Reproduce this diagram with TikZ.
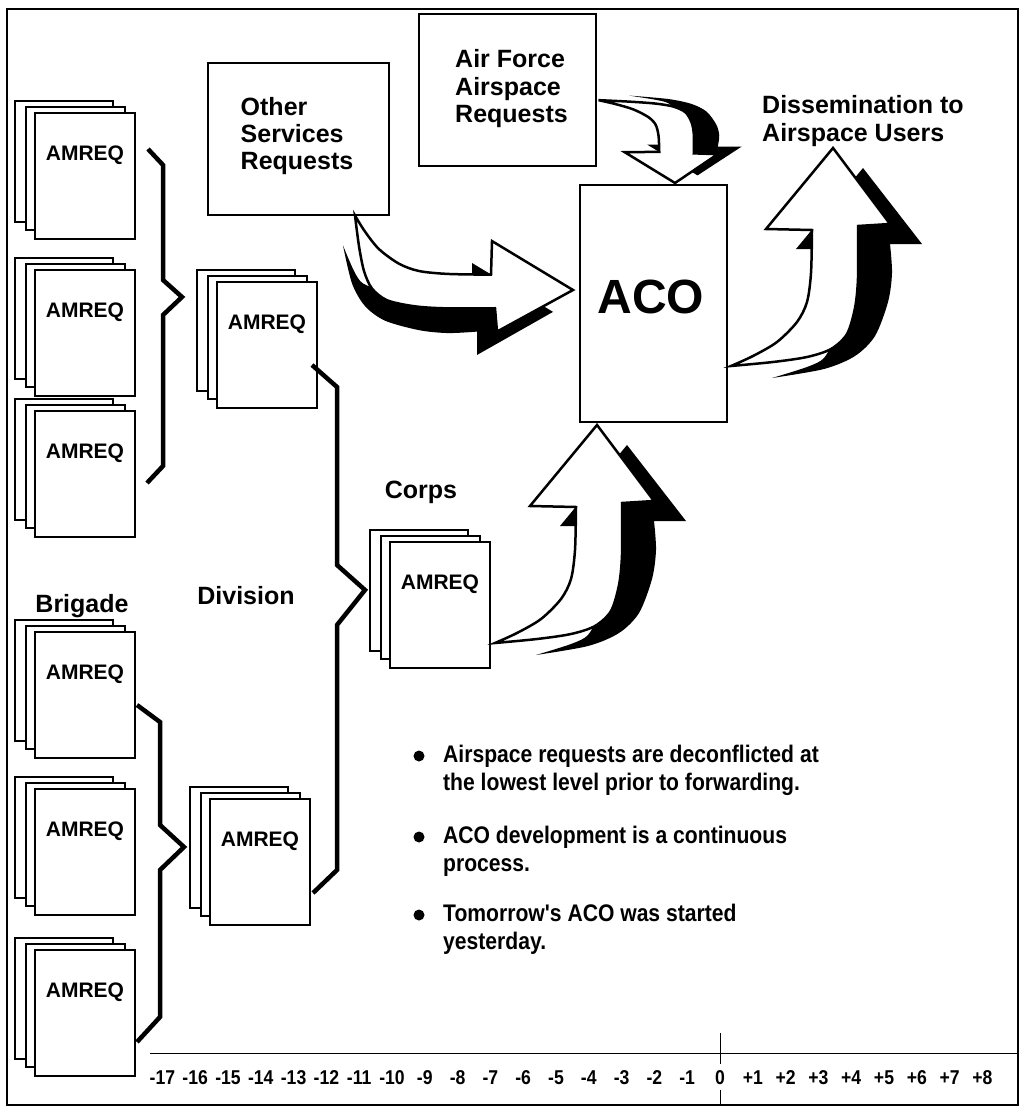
\documentclass[tikz,border=0pt]{standalone}
\usepackage{fontspec}
\setmainfont{Liberation Sans}
\newfontfamily\condfont[FakeStretch=0.88]{Liberation Sans}
\newcommand{\amstack}[3]{%
  \node[pageback, anchor=north west] (#1-back) at ({#2-20},{#3-12}) {};
  \node[pagemid, anchor=north west] (#1-mid) at ({#2-9},{#3-6}) {};
  \node[pagefront, anchor=north west] (#1) at (#2,#3) {};
  \node[amtext, anchor=base] (#1-t) at ({#2+50},{#3+47.5}) {AMREQ};
}
\newcommand{\curvyarrow}[1]{%
  \begin{scope}[cm={#1}]
    \fill[black] (30,20) -- (89,96) -- (57,96)
      -- plot[smooth] coordinates {(57,96) (59,125) (55,154) (42,188) (22,208) (-9,221) (-61,230)}
      -- plot[smooth] coordinates {(-61,230) (-26,219) (-9,210) (0,190) (5,150) (5,101)}
      -- (-37,101) -- cycle;
    \draw[fill=white, line width=2.5pt] (0,0) -- (57,76) -- (25,78)
      -- plot[smooth] coordinates {(25,78) (25,130) (22,160) (14,186) (-2,201) (-26,209) (-60,214) (-102,218)}
      -- plot[smooth] coordinates {(-102,218) (-80,208) (-56,194) (-36,174) (-26,154) (-22,125) (-21,82)}
      -- (-67,81) -- cycle;
  \end{scope}}
\begin{document}
\begin{tikzpicture}[x=1pt,y=-1pt,
  pagefront/.style={draw, fill=white, line width=1.2pt, minimum width=100pt, minimum height=126pt, inner sep=0pt, outer sep=0pt},
  pageback/.style={pagefront, minimum width=98pt, minimum height=121pt},
  pagemid/.style={pagefront, minimum width=99pt, minimum height=123pt},
  amtext/.style={font=\fontsize{21}{25}\selectfont\bfseries, inner sep=0pt},
  lab/.style={font=\fontsize{25}{28}\selectfont\bfseries, inner sep=0pt},
  bul/.style={font=\fontsize{24}{28}\selectfont\condfont\bfseries, inner sep=0pt, anchor=base west},
  numtext/.style={font=\fontsize{20}{24}\selectfont\condfont\bfseries, inner sep=0pt, anchor=base},
  reqbox/.style={draw, fill=white, line width=1.2pt, inner sep=0pt},
  brace/.style={line width=4.5pt, line join=miter}
]
\useasboundingbox (0,0) rectangle (1022,1110);
\draw[line width=2.2pt] (7,9) rectangle (1018,1105);

% request boxes
\draw[reqbox] (208,63) rectangle (389,215);
\node[lab, anchor=base west] (os1) at (240.5,116) {Other};
\node[lab, anchor=base west] (os2) at (240.5,143) {Services};
\node[lab, anchor=base west] (os3) at (240.5,170) {Requests};

\draw[reqbox] (419,14) rectangle (596,166);
\node[lab, anchor=base west] (af1) at (455,68) {Air Force};
\node[lab, anchor=base west] (af2) at (455,95.5) {Airspace};
\node[lab, anchor=base west] (af3) at (455,123) {Requests};

\draw[reqbox] (580,185) rectangle (727,422);
\node[font=\fontsize{48}{52}\selectfont\bfseries, inner sep=0pt, anchor=base] (aco) at (651,313) {ACO};

\node[lab, anchor=base west] (ds1) at (762,114) {Dissemination to};
\node[lab, anchor=base west] (ds2) at (762,142) {Airspace Users};

% stacks
\amstack{bA}{35}{113}
\amstack{bB}{35}{270}
\amstack{bC}{35}{411}
\amstack{bD}{35}{632}
\amstack{bE}{35}{789}
\amstack{bF}{35}{950}
\amstack{dA}{217}{282}
\amstack{dB}{210}{799}
\amstack{cA}{390}{542}

\node[lab, anchor=base] (brig) at (82,612) {Brigade};
\node[lab, anchor=base] (divi) at (246,604) {Division};
\node[lab, anchor=base] (corp) at (421,498) {Corps};

% braces
\draw[brace] (148,149) -- (163,165) -- (163,280) -- (182,297) -- (163,315) -- (163,466) -- (147,483);
\draw[brace] (137,705) -- (160,722) -- (160,825) -- (184,847) -- (160,870) -- (160,1017) -- (137,1042);
\draw[brace] (312,365) -- (337,387) -- (337,565) -- (365,590) -- (337,625) -- (337,870) -- (313,893);

% arrows
\curvyarrow{0,-0.73,1,0,(573,290)}
\curvyarrow{0.75,0,0,-0.38,(675,183)}
\curvyarrow{1,0,0,1,(597,425)}
\curvyarrow{1,0,0,1,(833,148)}

% bullets
\fill (419,756) circle[radius=5.5pt];
\node[bul] (p1a) at (443,762) {Airspace requests are deconflicted at};
\node[bul] (p1b) at (443,790) {the lowest level prior to forwarding.};
\fill (419,837) circle[radius=5.5pt];
\node[bul] (p2a) at (443,843) {ACO development is a continuous};
\node[bul] (p2b) at (443,871) {process.};
\fill (419,915) circle[radius=5.5pt];
\node[bul] (p3a) at (443,921) {Tomorrow's ACO was started};
\node[bul] (p3b) at (443,949) {yesterday.};

% timeline
\draw[line width=1pt] (150,1053) -- (1018,1053);
\draw[line width=1pt] (720,1033) -- (720,1064);
\draw[line width=1pt] (720,1090) -- (720,1105);
\foreach \i in {-17,...,8}{
  \pgfmathsetmacro\xx{720+32.8*\i}
  \node[numtext] (num\i) at (\xx,1084) {\ifnum\i>0 +\fi\i};
}
\end{tikzpicture}
\end{document}
